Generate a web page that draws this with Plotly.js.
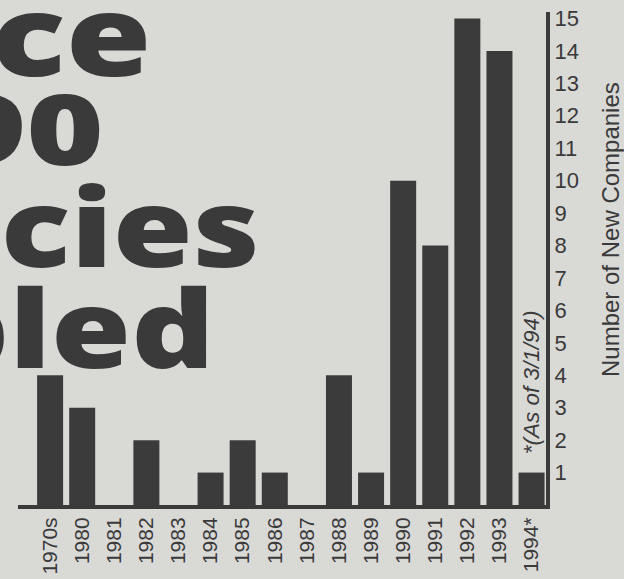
<!DOCTYPE html>
<html>
<head>
<meta charset="utf-8">
<script src="https://cdn.plot.ly/plotly-3.0.1.min.js"></script>
<style>
html,body{margin:0;padding:0;background:#d9d9d6;overflow:hidden;}
#chart{width:624px;height:579px;}
</style>
</head>
<body>
<div id="chart"></div>
<script>
// Data
var years = ['1970s','1980','1981','1982','1983','1984','1985','1986','1987','1988','1989','1990','1991','1992','1993','1994*'];
var newCompanies = [4,3,0,2,0,1,2,1,0,4,1,10,8,15,14,1];
var yTicks = [1,2,3,4,5,6,7,8,9,10,11,12,13,14,15];
var headlineLines = ['nce','90','licies','pled'];
var yTitle = 'Number of New Companies';
var footnote = '*(As of 3/1/94)';

var ink = '#3a3a3a';
var bg = '#d9d9d6';

var trace = {
  type: 'bar',
  x: years,
  y: newCompanies,
  marker: {color: '#3b3b3b', line: {width: 0}},
  hoverinfo: 'skip'
};

// headline fragment placement (pixel right edge and vertical center), sizes, stretch
var headRight = [150, 102, 258, 213];
var headCenter = [32, 127, 226, 326];
var headSize = [112, 98, 108, 108];
var headStretch = [1.24, 1.35, 1.2, 1.2];
var plotTop = 12, plotBottom = 505, plotLeft = 18;
var annotations = headlineLines.map(function(t, i){
  return {
    text: t, xref: 'paper', yref: 'paper',
    x: 0, xanchor: 'right', xshift: headRight[i] - plotLeft + 4,
    y: (plotBottom - headCenter[i]) / (plotBottom - plotTop), yanchor: 'middle',
    showarrow: false,
    font: {family: '"Noto Sans", sans-serif', size: headSize[i], weight: 900, color: ink}
  };
});
annotations.push({
  text: yTitle, xref: 'paper', yref: 'paper', x: 1, xanchor: 'center', xshift: 64,
  y: (plotBottom - 230) / (plotBottom - plotTop), yanchor: 'middle', textangle: -90, showarrow: false,
  font: {family: '"Liberation Sans", Arial, sans-serif', size: 24, color: ink}
});
annotations.push({
  text: footnote, xref: 'x', yref: 'y', x: '1994*', y: 3.77, xanchor: 'center', yanchor: 'middle',
  textangle: -90, showarrow: false,
  font: {family: '"Liberation Sans", Arial, sans-serif', size: 22.5, style: 'italic', color: ink}
});

var layout = {
  width: 624, height: 579,
  margin: {l: 18, r: 78, t: 12, b: 74, pad: 0},
  paper_bgcolor: bg, plot_bgcolor: bg,
  bargap: 0.19,
  showlegend: false,
  xaxis: {
    type: 'category', range: [-1, 15.45], fixedrange: true,
    showline: true, linewidth: 4, linecolor: ink, showgrid: false, zeroline: false,
    ticks: '', tickangle: -90,
    tickfont: {family: '"Liberation Sans", Arial, sans-serif', size: 21, color: ink}
  },
  yaxis: {
    side: 'right', range: [0, 15.2], fixedrange: true,
    tickvals: yTicks, ticktext: yTicks.map(String), ticks: '',
    showline: true, linewidth: 4, linecolor: ink, showgrid: false, zeroline: false,
    tickfont: {family: '"Liberation Sans", Arial, sans-serif', size: 22, color: ink}
  },
  annotations: annotations
};

Plotly.newPlot('chart', [trace], layout, {displayModeBar: false, staticPlot: true}).then(function(gd){
  // widen the heavy headline glyphs (the original uses an extended black face)
  headlineLines.forEach(function(t, i){
    var g = gd.querySelector('.annotation[data-index="' + i + '"]');
    if (!g) return;
    var txt = g.querySelector('text.annotation-text');
    if (!txt) return;
    var bb = txt.getBBox();
    var r = bb.x + bb.width;
    var k = headStretch[i];
    var prev = txt.getAttribute('transform') || '';
    txt.setAttribute('transform', prev + ' translate(' + r + ',0) scale(' + k + ',1) translate(' + (-r) + ',0)');
  });
});
</script>
</body>
</html>
